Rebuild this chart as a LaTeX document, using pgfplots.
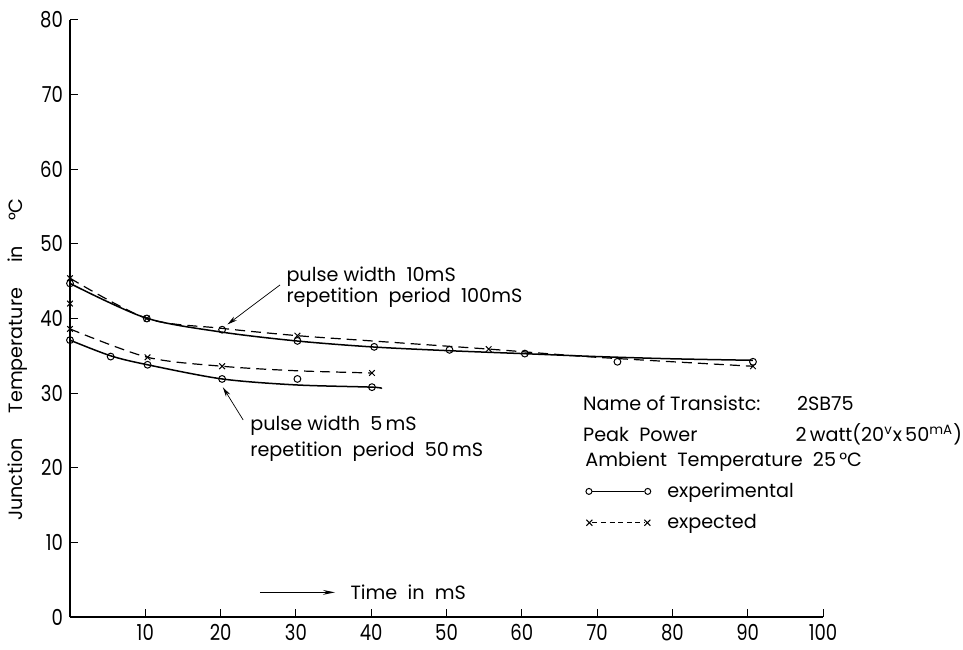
\documentclass[border=0pt]{standalone}
\usepackage{fontspec}
\setmainfont{Poppins}
\newfontfamily\tickfont{Poppins}[FakeStretch=0.82]
\usepackage{pgfplots}
\pgfplotsset{compat=1.18}
\usetikzlibrary{arrows.meta}
\newcommand{\lbl}{\fontsize{9.6}{11}\selectfont}
\begin{document}
\begin{tikzpicture}
\useasboundingbox (-35pt,-16pt) rectangle (446.5pt,308.5pt);
\begin{axis}[
  at={(0pt,0pt)}, anchor=south west,
  scale only axis, width=376.5pt, height=298.5pt,
  xmin=0, xmax=100, ymin=0, ymax=80,
  axis lines=left, axis line style={-, line width=0.6pt},
  xtick={10,20,...,100}, ytick={0,10,...,80},
  tick align=inside, major tick length=4pt,
  tick style={black, line width=0.5pt},
  /pgf/number format/assume math mode=true,
  ticklabel style={font=\tickfont\fontsize{11}{12}\selectfont},
  clip=false,
  legend style={at={(axis cs:68.4,18.6)}, anchor=north west, draw=none, fill=none,
    inner sep=0pt, row sep=3pt, font=\lbl,
    /tikz/every odd column/.append style={column sep=6pt}},
  legend cell align=left,
]
% ---- upper curves: pulse width 10 mS, period 100 mS
\addplot[black, line width=0.75pt, smooth, forget plot] coordinates {
 (0,44.7)(10,40.1)(20,38.2)(30,37.0)(40,36.2)(50,35.7)(60,35.3)(70,34.9)(80,34.6)(90.7,34.4)};
\addplot[black, only marks, mark=o, mark size=1.7pt, mark options={line width=0.5pt}, forget plot] coordinates {
 (0,44.7)(10.2,40.0)(20.2,38.5)(30.2,37.0)(40.4,36.2)(50.4,35.8)(60.4,35.3)(72.7,34.2)(90.7,34.2)};
\addplot[black, line width=0.6pt, smooth, dash pattern=on 5pt off 3pt, forget plot] coordinates {
 (0,45.4)(10.2,40.0)(20,38.7)(30.2,37.7)(40,37.0)(55.6,35.9)(70,34.8)(90.7,33.6)};
\addplot[black, only marks, mark=x, mark size=2pt, mark options={line width=0.5pt}, forget plot] coordinates {
 (0,45.4)(10.2,40.0)(30.2,37.7)(55.6,35.9)(90.7,33.6)(0,42.0)};
% ---- lower curves: pulse width 5 mS, period 50 mS
\addplot[black, line width=0.75pt, smooth, forget plot] coordinates {
 (0,37.1)(5.4,35.0)(10.3,33.8)(20.2,31.9)(30,31.1)(40.1,30.8)(41.4,30.6)};
\addplot[black, only marks, mark=o, mark size=1.7pt, mark options={line width=0.5pt}, forget plot] coordinates {
 (0,37.1)(5.4,34.9)(10.3,33.8)(20.2,31.9)(30.2,31.9)(40.1,30.8)};
\addplot[black, line width=0.6pt, smooth, dash pattern=on 5pt off 3pt, forget plot] coordinates {
 (0,38.6)(10.3,34.8)(20.2,33.6)(30,33.0)(40.1,32.7)};
\addplot[black, only marks, mark=x, mark size=2pt, mark options={line width=0.5pt}, forget plot] coordinates {
 (0,38.6)(10.3,34.8)(20.2,33.6)(40.1,32.7)};
% ---- legend
\addlegendimage{legend image code/.code={
  \draw[line width=0.6pt] (3pt,0pt) -- (29pt,0pt);
  \draw[line width=0.5pt] (1.3pt,0pt) circle (1.5pt);
  \draw[line width=0.5pt] (30.7pt,0pt) circle (1.5pt);}}
\addlegendentry{experimental}
\addlegendimage{legend image code/.code={
  \draw[line width=0.5pt, dash pattern=on 2.5pt off 1.8pt] (3pt,0pt) -- (29pt,0pt);
  \draw[line width=0.5pt] (0pt,-1.5pt) -- (3pt,1.5pt) (0pt,1.5pt) -- (3pt,-1.5pt);
  \draw[line width=0.5pt] (29pt,-1.5pt) -- (32pt,1.5pt) (29pt,1.5pt) -- (32pt,-1.5pt);}}
\addlegendentry{expected}
% ---- annotations
\node[anchor=west, font=\lbl, inner sep=0pt] at (axis cs:28.7,45.6) {pulse\ width\ \ 10mS};
\node[anchor=west, font=\lbl, inner sep=0pt] at (axis cs:28.7,42.8) {repetition\ \ period\ \ 100mS};
\draw[-{Stealth[length=5pt,width=2.4pt]}, line width=0.35pt] (axis cs:27.9,44.5) -- (axis cs:20.9,39.2);
\node[anchor=west, font=\lbl, inner sep=0pt] at (axis cs:23.9,25.7) {pulse width\ \ 5\,mS};
\node[anchor=west, font=\lbl, inner sep=0pt] at (axis cs:23.9,22.1) {repetition\ \ period\ \ 50\,mS};
\draw[-{Stealth[length=5pt,width=2.4pt]}, line width=0.35pt] (axis cs:23.0,26.4) -- (axis cs:20.3,30.8);
\draw[-{Stealth[length=6pt,width=2.4pt]}, line width=0.5pt] (axis cs:25.2,3.3) -- (axis cs:35.2,3.3);
\node[anchor=west, font=\lbl, inner sep=0pt] at (axis cs:37.2,3.3) {Time\ \ in\ \ mS};
\node[anchor=west, font=\lbl, inner sep=0pt] at (axis cs:68.1,28.6) {Name\ of\ Transistc:};
\node[anchor=west, font=\lbl, inner sep=0pt] at (axis cs:96.5,28.6) {2SB75};
\node[anchor=west, font=\lbl, inner sep=0pt] at (axis cs:68.1,24.5) {Peak\ \ Power};
\node[anchor=west, font=\lbl, inner sep=0pt] at (axis cs:96.3,24.5)
  {2\,watt(20\textsuperscript{v}x\,50\textsuperscript{mA})};
\node[anchor=west, font=\lbl, inner sep=0pt] at (axis cs:68.4,20.8) {Ambient\ \ Temperature\ \ 25\,°C};
\node[rotate=90, font=\lbl, inner sep=0pt] at (axis cs:-7.0,34.5) {Junction\hspace{1.3em}Temperature\hspace{1.3em}in\hspace{1.3em}°C};
\end{axis}
\end{tikzpicture}
\end{document}
